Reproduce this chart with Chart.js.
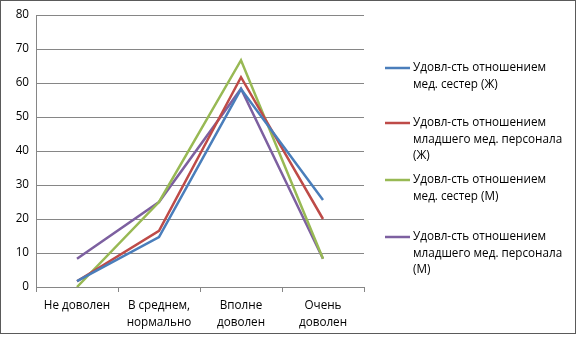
<!DOCTYPE html>
<html>
<head>
  <meta charset="utf-8">
  <title>Удовлетворенность</title>
  <script src="https://cdn.jsdelivr.net/npm/chart.js"></script>
  <style>
    body { margin: 0; background: #fff; }
    #wrap { width: 578px; height: 337px; }
  </style>
</head>
<body>
  <div id="wrap"><canvas id="myChart" width="578" height="337"></canvas></div>

  <script>
    // Категории по оси X
    var categories = [['Не доволен'], ['В среднем,', 'нормально'], ['Вполне', 'доволен'], ['Очень', 'доволен']];

    // Названия рядов (строки легенды)
    var seriesNames = [
      ['Удовл-сть отношением', 'мед. сестер (Ж)'],
      ['Удовл-сть отношением', 'младшего мед. персонала', '(Ж)'],
      ['Удовл-сть отношением', 'мед. сестер (М)'],
      ['Удовл-сть отношением', 'младшего мед. персонала', '(М)']
    ];

    // Значения рядов
    var nursesW = [1.7, 14.7, 58.2, 25.6];
    var juniorW = [1.7, 16.5, 61.7, 20.0];
    var nursesM = [0, 25.0, 66.7, 8.3];
    var juniorM = [8.3, 25.0, 58.3, 8.3];

    var colors = ['#4a7ebb', '#be4b48', '#98b954', '#7d60a0'];
    var font = '"Open Sans", "Noto Sans", sans-serif';

    function makeSet(i, data) {
      return {
        label: seriesNames[i].join(' '),
        data: data,
        borderColor: colors[i],
        backgroundColor: colors[i],
        borderWidth: 2.5,
        pointRadius: 0,
        tension: 0,
        fill: false
      };
    }

    // Легенда справа, рисуем сами (многострочные подписи)
    var sideLegend = {
      id: 'sideLegend',
      afterDraw: function(chart) {
        var c = chart.ctx;
        var tops = [68, 123, 180, 237];
        c.save();
        c.font = '11.7px ' + font;
        c.fillStyle = '#000';
        c.textBaseline = 'middle';
        seriesNames.forEach(function(lines, i) {
          c.strokeStyle = colors[i];
          c.lineWidth = 2.5;
          c.beginPath();
          c.moveTo(385, tops[i]);
          c.lineTo(410, tops[i]);
          c.stroke();
          lines.forEach(function(t, k) {
            c.fillText(t, 413, tops[i] + k * 16.4);
          });
        });
        // рамка
        c.strokeStyle = '#5a5a5a';
        c.lineWidth = 1;
        c.strokeRect(0.5, 0.5, 575, 333);
        c.restore();
      }
    };

    var ctx = document.getElementById('myChart').getContext('2d');
    var myChart = new Chart(ctx, {
      type: 'line',
      data: {
        labels: categories,
        datasets: [
          makeSet(0, nursesW),
          makeSet(1, juniorW),
          makeSet(2, nursesM),
          makeSet(3, juniorM)
        ]
      },
      options: {
        responsive: false,
        animation: false,
        layout: { padding: { top: 15, right: 214, left: 0, bottom: 0 } },
        plugins: {
          legend: { display: false },
          tooltip: { enabled: false }
        },
        scales: {
          x: {
            offset: true,
            grid: { offset: true, drawOnChartArea: false, drawTicks: true, tickLength: 5, color: '#868686' },
            border: { color: '#868686' },
            ticks: { color: '#000', font: { family: font, size: 11.7, lineHeight: 1.45 }, padding: 5, maxRotation: 0 },
            afterFit: function(scale) { scale.height = 50; }
          },
          y: {
            min: 0,
            max: 80,
            ticks: { stepSize: 10, color: '#000', font: { family: font, size: 11.7 }, padding: 7 },
            grid: { color: '#868686', drawTicks: false },
            border: { color: '#868686' },
            afterFit: function(scale) { scale.width = 36; }
          }
        }
      },
      plugins: [sideLegend]
    });
  </script>
</body>
</html>
